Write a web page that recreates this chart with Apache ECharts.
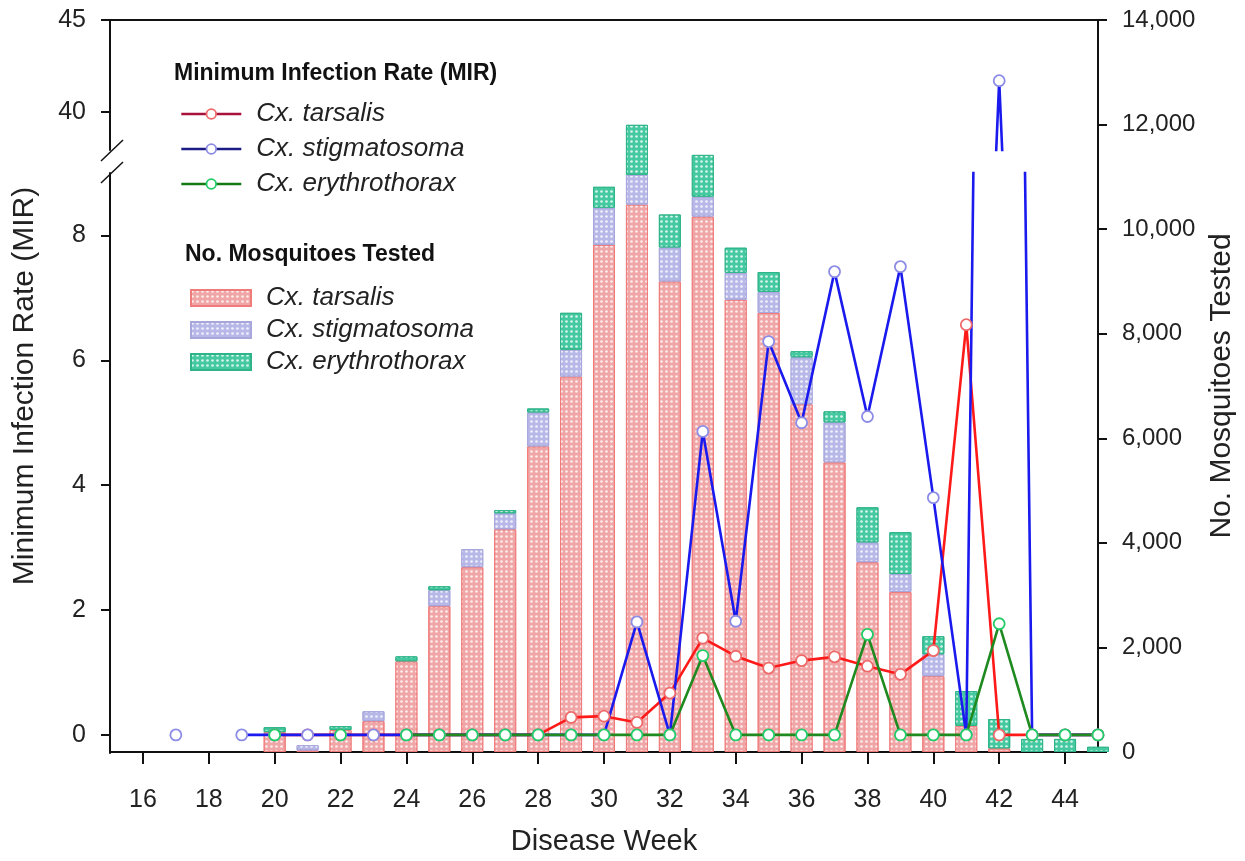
<!DOCTYPE html>
<html>
<head>
<meta charset="utf-8">
<script src="https://cdn.jsdelivr.net/npm/echarts@6/dist/echarts.min.js"></script>
<style>
html,body{margin:0;padding:0;background:#fff}
#c{width:1245px;height:861px}
</style>
</head>
<body>
<div id="c"></div>
<script>
// ---- data (disease weeks 15..45) ----
const weeks = [15,16,17,18,19,20,21,22,23,24,25,26,27,28,29,30,31,32,33,34,35,36,37,38,39,40,41,42,43,44,45];
const xTicks = [16,18,20,22,24,26,28,30,32,34,36,38,40,42,44];
const mirTicksLow = [0,2,4,6,8];
const mirTicksHigh = [40,45];

// Minimum infection rate
const mirTarsalis = [null,null,null,null,null,0,0,0,0,0,0,0,0,0,0.28,0.30,0.20,0.67,1.55,1.26,1.07,1.19,1.25,1.10,0.97,1.35,6.57,0,0,0,0];
const mirStigmatosoma = [null,null,0,null,0,0,0,0,0,0,0,0,0,0,0,0,1.81,0,4.86,1.82,6.30,5.00,7.42,5.10,7.50,3.80,0,41.7,0,0,0];
const mirErythrothorax = [null,null,null,null,null,0,null,0,null,0,0,0,0,0,0,0,0,0,1.27,0,0,0,0,1.61,0,0,0,1.78,0,0,0];

// Number of mosquitoes tested
const nTarsalis = [null,null,null,null,null,380,30,420,590,1735,2790,3535,4260,5845,7180,9700,10470,9000,10240,8650,8400,6650,5540,3630,3060,1450,500,70,null,null,null];
const nStigmatosoma = [null,null,null,null,null,null,100,null,190,null,305,345,305,650,515,710,570,650,380,515,400,900,765,380,345,420,null,null,null,null,null];
const nErythrothorax = [null,null,null,null,null,95,null,75,null,95,75,null,60,75,705,400,955,630,800,480,380,115,210,670,800,345,665,560,250,250,100];

const speciesNames = ['Cx. tarsalis','Cx. stigmatosoma','Cx. erythrothorax'];

// ---- helpers ----
const FONT = '"Liberation Sans", Arial, sans-serif';
const pairs = arr => weeks.map((w,i) => [w, arr[i] == null ? '-' : arr[i]]);
const vals = arr => arr.map(v => v == null ? '-' : v);
const fmt = v => String(v).replace(/\B(?=(\d{3})+(?!\d))/g, ',');

const lineColors = ['#ff1a1a','#1a1aee','#1f8a1f'];
const symBorder = ['#ee6a6a','#8c8ce6','#22cc66'];
const legendLine = ['#a8123a','#1c1c86','#147a14'];
const barBase = ['#f0a6a6','#b8b8e8','#45c9a0'];
const barBorder = ['#f07b7b','#a7a7dc','#2eb488'];

function decal(){
  return {symbol:'circle', symbolSize:0.9, color:'rgba(255,255,255,0.78)', dashArrayX:[3,1.5], dashArrayY:[3,1.5]};
}

const series = [];
[nTarsalis, nStigmatosoma, nErythrothorax].forEach((arr,i) => {
  series.push({
    name:'N|' + speciesNames[i], type:'bar', stack:'n', xAxisIndex:3, yAxisIndex:0,
    barWidth:22, data:vals(arr), z:1,
    itemStyle:{color:barBase[i], borderColor:barBorder[i], borderWidth:1, decal:decal()}
  });
});
[mirTarsalis, mirStigmatosoma, mirErythrothorax].forEach((arr,i) => {
  series.push({
    name:'MIR|' + speciesNames[i], type:'line', xAxisIndex:1, yAxisIndex:1, clip:true,
    data:pairs(arr), symbol:'circle', symbolSize:11, showAllSymbol:true, connectNulls:false, z:3,
    lineStyle:{color:lineColors[i], width:2.6},
    itemStyle:{color:'#ffffff', borderColor:symBorder[i], borderWidth:1.8}
  });
});
// upper part of the broken MIR axis
series.push({
  name:'MIR|' + speciesNames[1], type:'line', xAxisIndex:2, yAxisIndex:2, clip:true,
  data:pairs(mirStigmatosoma), symbol:'circle', symbolSize:11, showAllSymbol:true, z:3,
  lineStyle:{color:lineColors[1], width:2.6},
  itemStyle:{color:'#ffffff', borderColor:symBorder[1], borderWidth:1.8}
});

const axisLineStyle = {color:'#111', width:2};
const labelStyle = {color:'#222', fontSize:25, fontFamily:FONT};
const titleStyle = {fontSize:30, color:'#222', fontFamily:FONT};

const option = {
  animation:false,
  backgroundColor:'#fff',
  grid:[
    {left:110, right:147, top:20, bottom:108},
    {left:110, right:147, top:173, bottom:108},
    {left:110, right:147, top:20, height:130}
  ],
  xAxis:[
    {gridIndex:0, type:'value', min:15, max:45,
     name:'Disease Week', nameLocation:'middle', nameGap:75,
     nameTextStyle:{fontSize:29, color:'#222', fontFamily:FONT},
     axisLine:{show:true, onZero:false, lineStyle:axisLineStyle},
     axisTick:{show:true, inside:false, length:12, lineStyle:{color:'#111', width:2}, customValues:xTicks},
     axisLabel:Object.assign({margin:36, customValues:xTicks}, labelStyle),
     splitLine:{show:false}},
    {gridIndex:1, type:'value', min:15, max:45, show:false},
    {gridIndex:2, type:'value', min:15, max:45, position:'top',
     axisLine:{show:true, onZero:false, lineStyle:axisLineStyle},
     axisTick:{show:false}, axisLabel:{show:false}, splitLine:{show:false}},
    {gridIndex:0, type:'category', data:weeks.map(String), boundaryGap:false, show:false}
  ],
  yAxis:[
    {gridIndex:0, type:'value', position:'right', min:0, max:14000, interval:2000,
     name:'No. Mosquitoes Tested', nameLocation:'middle', nameGap:108, nameRotate:90,
     nameTextStyle:titleStyle,
     axisLine:{show:true, onZero:false, lineStyle:axisLineStyle},
     axisTick:{show:true, length:9, lineStyle:{color:'#111', width:2}},
     axisLabel:Object.assign({margin:24, formatter:fmt}, labelStyle, {fontSize:24}),
     splitLine:{show:false}},
    {gridIndex:1, type:'value', position:'left', min:-0.29, max:9.0,
     axisLine:{show:true, onZero:false, lineStyle:axisLineStyle},
     axisTick:{show:true, length:9, lineStyle:{color:'#111', width:2}, customValues:mirTicksLow},
     axisLabel:Object.assign({margin:24, customValues:mirTicksLow}, labelStyle),
     splitLine:{show:false}},
    {gridIndex:2, type:'value', position:'left', min:37.93, max:45,
     axisLine:{show:true, onZero:false, lineStyle:axisLineStyle},
     axisTick:{show:true, length:9, lineStyle:{color:'#111', width:2}, customValues:mirTicksHigh},
     axisLabel:Object.assign({margin:24, customValues:mirTicksHigh}, labelStyle),
     splitLine:{show:false}},
    {gridIndex:0, type:'value', position:'left', min:0, max:1,
     name:'Minimum Infection Rate (MIR)', nameLocation:'middle', nameGap:70, nameRotate:90,
     nameTextStyle:titleStyle,
     axisLine:{show:false}, axisTick:{show:false}, axisLabel:{show:false}, splitLine:{show:false}}
  ],
  legend:[
    {left:180, top:101, padding:0, orient:'vertical', itemWidth:60, itemHeight:12, itemGap:9, selectedMode:false,
     formatter:n => n.split('|')[1],
     textStyle:{fontSize:26, fontStyle:'italic', color:'#222', fontFamily:FONT, padding:[0,0,0,10], lineHeight:25},
     data:speciesNames.map((s,i) => ({name:'MIR|' + s,
       lineStyle:{color:legendLine[i], width:2.6},
       itemStyle:{color:'#fff', borderColor:symBorder[i], borderWidth:1.8}}))},
    {left:190, top:285, padding:0, orient:'vertical', itemWidth:60, itemHeight:16, itemGap:6, selectedMode:false,
     icon:'rect',
     formatter:n => n.split('|')[1],
     textStyle:{fontSize:26, fontStyle:'italic', color:'#222', fontFamily:FONT, padding:[0,0,0,10], lineHeight:25},
     data:speciesNames.map(s => 'N|' + s)}
  ],
  graphic:[
    {type:'text', left:174, top:62, style:{text:'Minimum Infection Rate (MIR)', font:'bold 23px ' + FONT, fill:'#111'}},
    {type:'text', left:185, top:243, style:{text:'No. Mosquitoes Tested', font:'bold 23px ' + FONT, fill:'#111'}},
    {type:'line', shape:{x1:101, y1:161, x2:123, y2:140}, style:{stroke:'#111', lineWidth:1.5}},
    {type:'line', shape:{x1:101, y1:183, x2:123, y2:162}, style:{stroke:'#111', lineWidth:1.5}}
  ],
  series:series
};

const chart = echarts.init(document.getElementById('c'));
chart.setOption(option);
</script>
</body>
</html>
